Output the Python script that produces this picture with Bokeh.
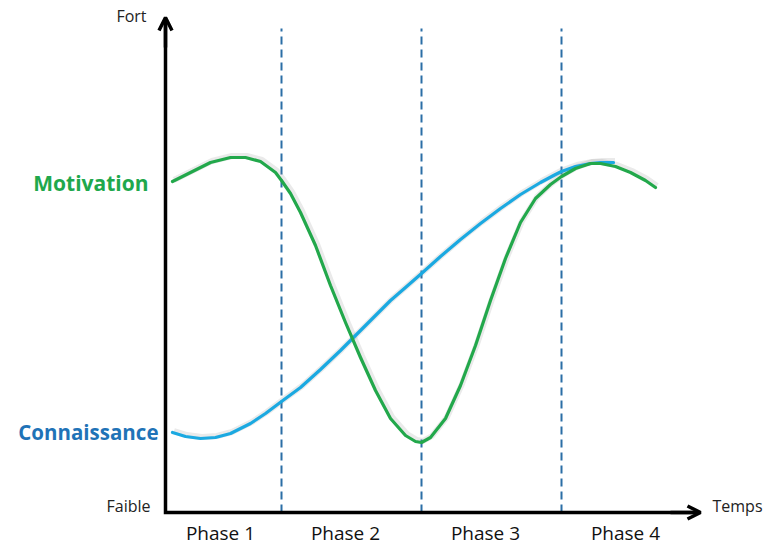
from bokeh.plotting import figure
from bokeh.models import Range1d, Arrow, OpenHead, ColumnDataSource
from bokeh.core.properties import value
from bokeh.embed import file_html
from bokeh.resources import INLINE

# ---- data (time units along x, level units along y) ----
motivation_t = [0.7, 2.5, 4.5, 6.5, 8.0, 9.5, 11.0, 11.6, 12.5, 13.5, 15.0, 16.5, 18.0, 19.5,
                21.0, 22.5, 24.0, 25.0, 25.6, 26.5, 28.0, 29.5, 31.0, 32.5, 34.0, 35.5, 37.0,
                38.5, 39.6, 41.0, 42.5, 43.5, 45.0, 46.5, 48.0, 49.0]
motivation_v = [33.1, 34.0, 35.0, 35.5, 35.5, 35.1, 34.0, 33.2, 31.9, 30.0, 26.7, 22.7, 19.0, 15.5,
                12.2, 9.4, 7.7, 7.1, 7.0, 7.5, 9.4, 12.7, 16.7, 21.2, 25.4, 29.0, 31.4,
                32.8, 33.6, 34.4, 34.9, 34.9, 34.6, 34.0, 33.2, 32.5]
connaissance_t = [0.7, 2.0, 3.5, 5.0, 6.5, 8.5, 10.0, 11.6, 13.5, 15.5, 17.5, 18.7, 20.5, 22.5,
                  24.0, 25.6, 27.5, 29.5, 31.5, 33.5, 35.5, 37.5, 39.0, 39.6, 41.0, 42.5, 43.5, 44.8]
connaissance_v = [8.0, 7.6, 7.4, 7.5, 7.9, 8.9, 9.9, 11.1, 12.5, 14.3, 16.2, 17.4, 19.2, 21.2,
                  22.5, 23.9, 25.6, 27.3, 28.9, 30.4, 31.8, 33.0, 33.8, 34.1, 34.6, 34.9, 35.0, 35.0]
phase_bounds = [11.6, 25.6, 39.6]
phase_labels = ["Phase 1", "Phase 2", "Phase 3", "Phase 4"]
phase_centers = [5.5, 18.0, 32.0, 46.0]
axis_x_end = 53.5
axis_y_end = 49.5
dash_top = 48.4

p = figure(width=767, height=544, output_backend="svg", toolbar_location=None,
           x_range=Range1d(-16.5, 60.2), y_range=Range1d(-3.2, 51.2),
           min_border=0, outline_line_color=None)
p.axis.visible = False
p.grid.visible = False
p.background_fill_color = "white"
p.border_fill_color = "white"

# dashed phase boundaries
p.segment(x0=phase_bounds, y0=[0] * len(phase_bounds), x1=phase_bounds,
          y1=[dash_top] * len(phase_bounds), line_color="#2b6ea6", line_width=2,
          line_dash="8 5")

# shadows
p.line([t + 0.15 for t in motivation_t], [v + 0.15 for v in motivation_v],
       line_color="#888888", line_alpha=0.18, line_width=6)
p.line([t + 0.15 for t in connaissance_t], [v + 0.15 for v in connaissance_v],
       line_color="#888888", line_alpha=0.18, line_width=6)

# curves
p.line(connaissance_t, connaissance_v, line_color="#1ba9e1", line_width=3.2,
       line_cap="round", line_join="round")
p.line(motivation_t, motivation_v, line_color="#22a84b", line_width=3.2,
       line_cap="round", line_join="round")

# axes with arrows
p.line([0, 0, axis_x_end - 0.3], [axis_y_end - 0.3, 0, 0], line_color="black",
       line_width=3.5, line_join="miter")
p.add_layout(Arrow(end=OpenHead(size=13, line_width=3.5, line_color="black"),
                   x_start=0, y_start=axis_y_end - 3, x_end=0, y_end=axis_y_end,
                   line_width=3.5, line_color="black"))
p.add_layout(Arrow(end=OpenHead(size=13, line_width=3.5, line_color="black"),
                   x_start=axis_x_end - 3, y_start=0, x_end=axis_x_end, y_end=0,
                   line_width=3.5, line_color="black"))

font = value("Open Sans")
# axis end labels
p.text(x=[-1.9], y=[49.7], text=["Fort"], text_font=font, text_font_size="16px",
       text_color="#222222", text_align="right", text_baseline="middle")
p.text(x=[-1.5], y=[0.7], text=["Faible"], text_font=font, text_font_size="16px",
       text_color="#222222", text_align="right", text_baseline="middle")
p.text(x=[54.7], y=[0.7], text=["Temps"], text_font=font, text_font_size="16px",
       text_color="#222222", text_align="left", text_baseline="middle")

# series labels
p.text(x=[-1.7], y=[33.0], text=["Motivation"], text_font=font, text_font_size="21px",
       text_font_style="bold", text_color="#20a84c", text_align="right",
       text_baseline="middle")
p.text(x=[-0.7], y=[8.1], text=["Connaissance"], text_font=font, text_font_size="20.5px",
       text_font_style="bold", text_color="#1f73b7", text_align="right",
       text_baseline="middle")

# phase labels
src = ColumnDataSource(dict(x=phase_centers, y=[-2.0] * 4, t=phase_labels))
p.text(x="x", y="y", text="t", source=src, text_font=font, text_font_size="19px",
       text_color="#111111", text_align="center", text_baseline="middle")

open("out.html", "w").write(file_html(p, INLINE))
